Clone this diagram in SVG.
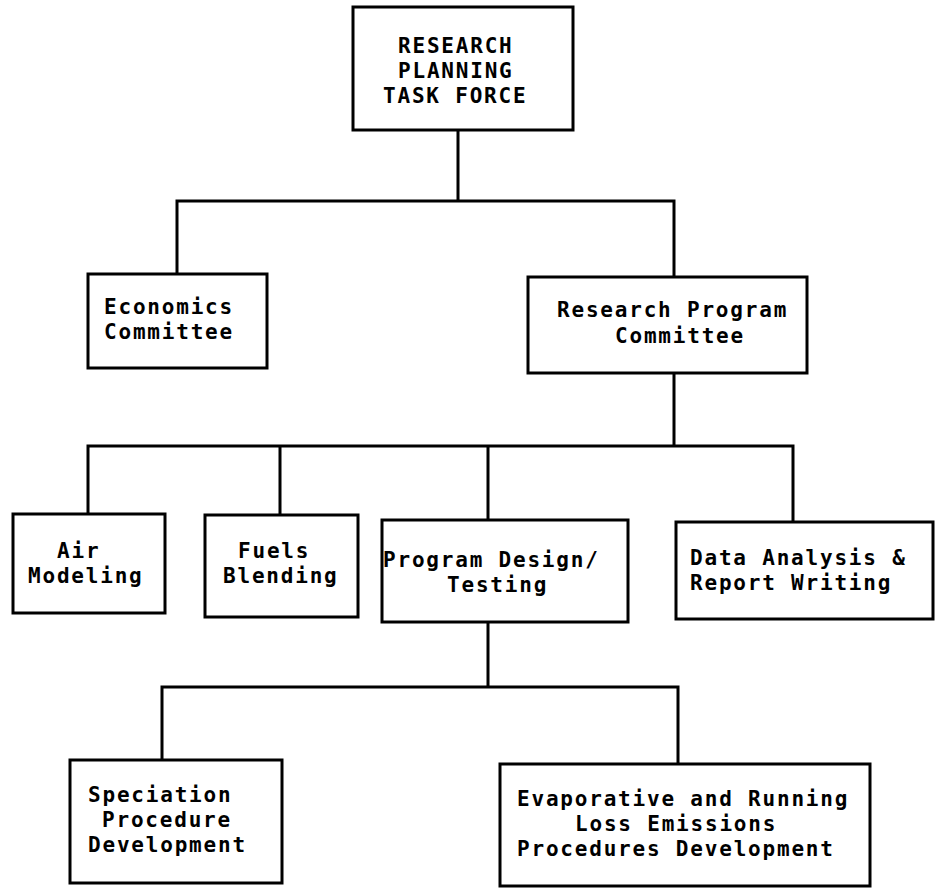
<svg xmlns="http://www.w3.org/2000/svg" width="935" height="888" viewBox="0 0 935 888">
<style>
.box{fill:#fff;stroke:#000;stroke-width:3}
.ln{fill:none;stroke:#000;stroke-width:3;stroke-linejoin:miter}
text{font-family:"DejaVu Sans Mono","Liberation Mono",monospace;font-weight:bold;font-size:21px;letter-spacing:1.8px;fill:#000}
</style>
<rect width="935" height="888" fill="#fff"/>
<g id="connectors">
<path class="ln" d="M458 130V201M177 274V201H674V277"/>
<path class="ln" d="M674 373V446M88 514V446H793V522M280 446V515M488 446V520"/>
<path class="ln" d="M488 622V687M162 760V687H678V764"/>
</g>
<g id="n-task-force">
<rect class="box" x="353" y="7" width="220" height="123"/>
<text x="398" y="53">RESEARCH</text>
<text x="398" y="78">PLANNING</text>
<text x="383" y="103">TASK FORCE</text>
</g>
<g id="n-economics">
<rect class="box" x="88" y="274" width="179" height="94"/>
<text x="104" y="314">Economics</text>
<text x="104" y="339">Committee</text>
</g>
<g id="n-research-program">
<rect class="box" x="528" y="277" width="279" height="96"/>
<text x="557" y="317">Research Program</text>
<text x="615" y="343">Committee</text>
</g>
<g id="n-air">
<rect class="box" x="13" y="514" width="152" height="99"/>
<text x="57" y="558">Air</text>
<text x="28" y="583">Modeling</text>
</g>
<g id="n-fuels">
<rect class="box" x="205" y="515" width="153" height="102"/>
<text x="238" y="558">Fuels</text>
<text x="223" y="583">Blending</text>
</g>
<g id="n-program-design">
<rect class="box" x="382" y="520" width="246" height="102"/>
<text x="383" y="567">Program Design/</text>
<text x="447" y="592">Testing</text>
</g>
<g id="n-data-analysis">
<rect class="box" x="676" y="522" width="257" height="97"/>
<text x="690" y="565">Data Analysis &amp;</text>
<text x="690" y="590">Report Writing</text>
</g>
<g id="n-speciation">
<rect class="box" x="70" y="760" width="212" height="123"/>
<text x="88" y="802">Speciation</text>
<text x="102" y="827">Procedure</text>
<text x="88" y="852">Development</text>
</g>
<g id="n-evaporative">
<rect class="box" x="500" y="764" width="370" height="122"/>
<text x="517" y="806">Evaporative and Running</text>
<text x="575" y="831">Loss Emissions</text>
<text x="517" y="856">Procedures Development</text>
</g>
</svg>
